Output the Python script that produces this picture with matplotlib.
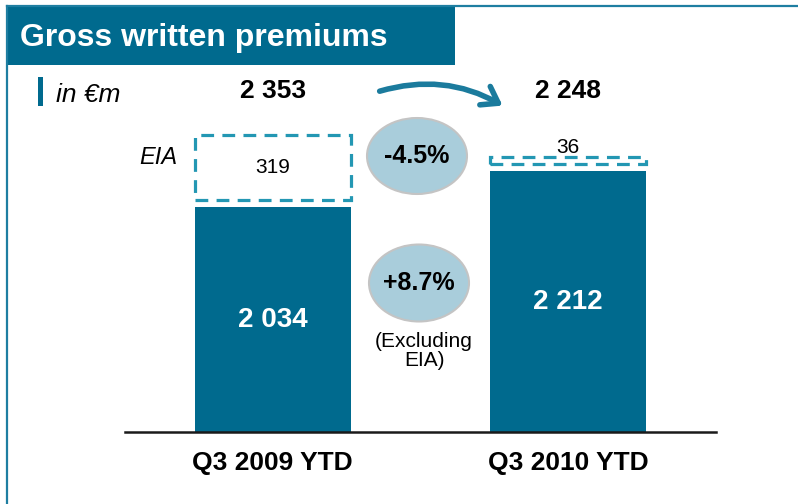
import matplotlib
matplotlib.use('Agg')
import matplotlib.pyplot as plt
from matplotlib.patches import Rectangle, Ellipse, FancyArrowPatch
from matplotlib.lines import Line2D
import matplotlib.transforms as mtransforms

# ---- data ----
categories = ['Q3 2009 YTD', 'Q3 2010 YTD']
excl_eia = [2034, 2212]
eia = [319, 36]
totals = [2353, 2248]
bar_labels = ['2 034', '2 212']
eia_labels = ['319', '36']
total_labels = ['2 353', '2 248']
change_total = '-4.5%'
change_excl = '+8.7%'
title = 'Gross written premiums'
unit = 'in €m'

plt.rcParams['font.family'] = ['Liberation Sans', 'DejaVu Sans']

W, H = 798, 504
fig = plt.figure(figsize=(W / 100, H / 100), dpi=100)


def fx(px):
    return px / W


def fy(py):
    return 1 - py / H


TEAL = '#006A8E'
DASH = '#2397B3'
ARROW = '#1B7B9D'
ELL = '#A9CDDB'

ax = fig.add_axes([fx(125), fy(432), fx(716) - fx(125), fy(60) - fy(432)])
xs = list(range(len(categories)))
ymin, ymax = 921.5, 2761
ax.bar(xs, excl_eia, width=0.527, color=TEAL, zorder=2)
gap = 35
bottoms = [v + gap for v in excl_eia]
ax.bar(xs, eia, bottom=bottoms, width=0.527, fill=False, edgecolor=DASH,
       linewidth=2.3, linestyle=(0, (4, 2.6)), zorder=2)
ax.set_xlim(-0.5, 1.5)
ax.set_ylim(ymin, ymax)

for s in ['top', 'left', 'right']:
    ax.spines[s].set_visible(False)
ax.spines['bottom'].set_linewidth(1.8)
ax.spines['bottom'].set_color('#1a1a1a')
ax.set_yticks([])
ax.set_xticks(xs, categories, fontsize=19, fontweight='bold')
ax.tick_params(axis='x', length=0, pad=14)
ax.patch.set_visible(False)

# labels inside bars
for i, v in enumerate(excl_eia):
    ax.text(xs[i], (ymin + v) / 2, bar_labels[i], ha='center', va='center',
            color='white', fontsize=20, fontweight='bold')

# EIA labels
ppu = (ax.transData.transform((0, 1000))[1] - ax.transData.transform((0, 0))[1]) / 1000
for i, e in enumerate(eia):
    b = bottoms[i]
    if e * ppu > 22:
        ax.text(xs[i], b + e / 2, eia_labels[i], ha='center', va='center',
                fontsize=15)
    else:
        ax.annotate(eia_labels[i], (xs[i], b + e), xytext=(0, 0),
                    textcoords='offset points', ha='center', va='bottom',
                    fontsize=15)

# totals (header row)
blend = mtransforms.blended_transform_factory(ax.transData, fig.transFigure)
for i, t in enumerate(total_labels):
    ax.text(xs[i], fy(91), t, transform=blend, ha='center', va='center',
            fontsize=19, fontweight='bold')

# title box and border
fig.add_artist(Line2D([fx(7), 1], [fy(5.5), fy(5.5)], color='#1E7EA1', lw=1.6))
fig.add_artist(Line2D([fx(7), fx(7)], [fy(5.5), 0], color='#1E7EA1', lw=1.6))
fig.add_artist(Rectangle((fx(7), fy(65)), fx(455) - fx(7), fy(7) - fy(65),
                         transform=fig.transFigure, color=TEAL, lw=0))
fig.text(fx(20), fy(38), title, color='white', fontsize=23,
         fontweight='bold', va='center', ha='left')

# unit marker
fig.add_artist(Rectangle((fx(38), fy(106)), 5 / W, 29 / H,
                         transform=fig.transFigure, color=TEAL, lw=0))
fig.text(fx(56), fy(95), unit, fontsize=19, style='italic', va='center', ha='left')
fig.text(fx(158), fy(157), 'EIA', fontsize=17, style='italic', va='center', ha='center')

# ellipses
fig.add_artist(Ellipse((fx(417), fy(156)), 100 / W, 76 / H, transform=fig.transFigure,
                       facecolor=ELL, edgecolor='#C4C4C4', lw=1.5))
fig.text(fx(417), fy(156), change_total, fontsize=18, fontweight='bold',
         ha='center', va='center')
fig.add_artist(Ellipse((fx(419), fy(283)), 100 / W, 77 / H, transform=fig.transFigure,
                       facecolor=ELL, edgecolor='#C4C4C4', lw=1.5))
fig.text(fx(419), fy(283), change_excl, fontsize=18, fontweight='bold',
         ha='center', va='center')
fig.text(fx(424), fy(351), '(Excluding\nEIA)', fontsize=15, ha='center',
         va='center', linespacing=1.05)

# arrow
arrow = FancyArrowPatch((fx(377), fy(92)), (fx(505), fy(107)),
                        transform=fig.transFigure,
                        connectionstyle='arc3,rad=-0.22',
                        arrowstyle='->,head_length=0.55,head_width=0.38',
                        mutation_scale=20, lw=4, color=ARROW)
fig.add_artist(arrow)

fig.savefig('out.png', dpi=100)
